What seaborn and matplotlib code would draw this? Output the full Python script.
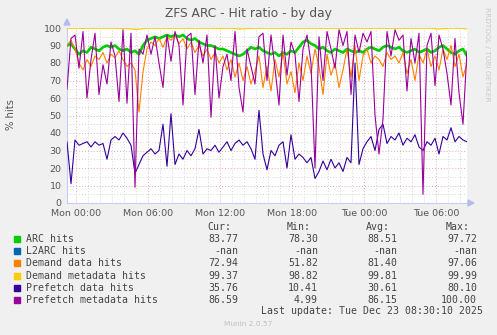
import numpy as np
import seaborn as sns
import matplotlib.pyplot as plt
from matplotlib.ticker import FixedLocator, MultipleLocator

# samples every 20 minutes, starting Sun 23:15 (hours relative to Mon 00:00)
t_start = -0.75
t_step = 1 / 3

arc_hits = [90, 91, 88, 85, 87, 86, 89, 88, 87, 89, 90, 89, 90, 88, 87, 88, 86, 87, 85, 90,
            93, 94, 95, 94, 95, 96, 95, 96, 95, 96, 94, 93, 94, 92, 91, 90, 90, 89, 88, 88,
            87, 86, 85, 84, 85, 87, 89, 88, 89, 87, 86, 85, 86, 84, 86, 85, 87, 86, 89, 92,
            93, 91, 90, 88, 89, 87, 86, 88, 87, 86, 88, 87, 86, 87, 86, 88, 89, 88, 87, 89,
            90, 89, 88, 89, 87, 86, 87, 88, 86, 87, 88, 86, 87, 89, 90, 88, 86, 85, 87, 88, 84]
demand_data = [90, 93, 88, 80, 76, 82, 78, 84, 82, 86, 80, 85, 83, 87, 82, 78, 80, 76, 52, 75,
               88, 92, 90, 94, 89, 95, 93, 96, 91, 94, 88, 92, 86, 90, 84, 88, 82, 86, 80, 84,
               76, 82, 72, 80, 70, 78, 68, 75, 84, 66, 78, 64, 82, 72, 86, 68, 75, 63, 80, 70,
               84, 74, 88, 78, 62, 85, 73, 80, 66, 76, 88, 72, 90, 70, 84, 88, 80, 84, 82, 78,
               86, 82, 84, 80, 86, 74, 82, 70, 85, 80, 88, 78, 84, 76, 88, 82, 90, 78, 85, 72, 80]
demand_meta = [99.8, 99.9, 99.8, 99.9, 99.7, 99.9, 99.8, 99.9, 99.9, 99.8, 99.9, 99.8, 99.9, 99.7, 99.8, 99.6, 99.4, 99.2, 99.3, 99.6,
               99.8, 99.9, 99.9, 99.8, 99.9, 99.9, 99.8, 99.9, 99.9, 99.8, 99.9, 99.8, 99.9, 99.9, 99.8, 99.9, 99.8, 99.9, 99.7, 99.8,
               99.9, 99.8, 99.6, 99.4, 99.5, 99.7, 99.8, 99.9, 99.8, 99.9, 99.9, 99.8, 99.9, 99.9, 99.8, 99.9, 99.9, 99.8, 99.9, 99.9,
               99.8, 99.9, 99.9, 99.8, 99.9, 99.9, 99.8, 99.9, 99.9, 99.8, 99.9, 99.9, 99.8, 99.9, 99.9, 99.8, 99.9, 99.9, 99.8, 99.9,
               99.9, 99.8, 99.9, 99.9, 99.8, 99.9, 99.9, 99.8, 99.9, 99.9, 99.8, 99.9, 99.5, 99.4, 99.6, 99.8, 99.9, 99.9, 99.8, 99.7, 99.4]
prefetch_data = [35, 11, 36, 33, 34, 35, 32, 35, 33, 34, 25, 36, 38, 36, 40, 37, 33, 17, 22, 27,
                 29, 31, 28, 30, 45, 21, 51, 22, 28, 25, 30, 27, 31, 42, 28, 31, 30, 33, 29, 32,
                 35, 30, 34, 36, 33, 35, 31, 25, 53, 28, 19, 30, 27, 33, 35, 20, 39, 25, 28, 26,
                 23, 26, 14, 18, 24, 19, 25, 20, 23, 18, 26, 23, 80, 22, 31, 35, 38, 30, 42, 45,
                 34, 38, 36, 40, 33, 37, 35, 39, 32, 30, 35, 33, 37, 28, 38, 36, 43, 35, 38, 36, 35]
prefetch_meta = [65, 94, 96, 77, 98, 60, 82, 97, 62, 79, 68, 92, 84, 58, 99, 57, 97, 9, 88, 85,
                 96, 85, 95, 80, 66, 96, 81, 98, 90, 56, 95, 97, 62, 93, 80, 96, 49, 90, 60, 78,
                 85, 70, 98, 66, 52, 88, 78, 68, 95, 97, 70, 96, 77, 56, 96, 73, 92, 85, 58, 88,
                 96, 80, 20, 95, 70, 98, 88, 77, 99, 90, 98, 62, 96, 86, 97, 92, 98, 50, 28, 48,
                 98, 84, 99, 93, 96, 64, 94, 80, 97, 5, 90, 97, 67, 96, 88, 74, 56, 94, 63, 45, 87]

tick_hours = [0, 6, 12, 18, 24, 30]
tick_labels = ["Mon 00:00", "Mon 06:00", "Mon 12:00", "Mon 18:00", "Tue 00:00", "Tue 06:00"]

legend_names = ["ARC hits", "L2ARC hits", "Demand data hits", "Demand metadata hits",
                "Prefetch data hits", "Prefetch metadata hits"]
legend_colors = ["#00CC00", "#0066B3", "#FF8000", "#FFCC00", "#330099", "#990099"]
cur_vals = ["83.77", "-nan", "72.94", "99.37", "35.76", "86.59"]
min_vals = ["78.30", "-nan", "51.82", "98.82", "10.41", "4.99"]
avg_vals = ["88.51", "-nan", "81.40", "99.81", "30.61", "86.15"]
max_vals = ["97.72", "-nan", "97.06", "99.99", "80.10", "100.00"]

sns.set_style("white")
plt.rcParams['font.family'] = ['DejaVu Sans']

W, H = 497, 335
fig = plt.figure(figsize=(W / 100, H / 100), dpi=100, facecolor="#f0f0f0")
ax = fig.add_axes([67 / W, (H - 203) / H, 400 / W, 175 / H])
ax.set_facecolor("white")

hours = t_start + t_step * np.arange(len(arc_hits))
series = [(arc_hits, legend_colors[0], 1.9),
          (demand_data, legend_colors[2], 0.8),
          (demand_meta, legend_colors[3], 0.8),
          (prefetch_data, legend_colors[4], 0.8),
          (prefetch_meta, legend_colors[5], 0.8)]
for vals, col, lw in series:
    sns.lineplot(x=hours, y=vals, ax=ax, color=col, linewidth=lw, zorder=3)

ax.set_xlim(hours[0], hours[-1])
ax.set_ylim(0, 100)
ax.xaxis.set_major_locator(FixedLocator(tick_hours))
ax.xaxis.set_minor_locator(MultipleLocator(1))
ax.yaxis.set_major_locator(MultipleLocator(10))
ax.yaxis.set_minor_locator(MultipleLocator(5))
ax.set_xticklabels(tick_labels)
ax.grid(which="major", color="#f0a8a8", linestyle=(0, (1, 2)), linewidth=0.7)
ax.grid(which="minor", color="#d4d4d4", linestyle=(0, (1, 2)), linewidth=0.7)
ax.set_axisbelow(True)
ax.tick_params(axis="both", which="major", labelsize=6.8, labelcolor="#555555",
               length=2, color="#c8c8c8", pad=2)
ax.tick_params(axis="both", which="minor", length=0)
for s in ["top", "right"]:
    ax.spines[s].set_visible(False)
for s in ["left", "bottom"]:
    ax.spines[s].set_color("#c8ccf4")
    ax.spines[s].set_linewidth(0.8)
ax.set_xlabel("")
ax.set_ylabel("")
fig.text(11 / W, 1 - 115 / H, "% hits", rotation=90, ha="center", va="center",
         fontsize=7.2, color="#555555")

# axis arrows
fig.patches.append(plt.Polygon([[64 / W, (H - 25) / H], [70 / W, (H - 25) / H], [67 / W, (H - 19) / H]],
                               closed=True, transform=fig.transFigure, color="#b4bcf0"))
fig.patches.append(plt.Polygon([[468 / W, (H - 200) / H], [468 / W, (H - 206) / H], [474 / W, (H - 203) / H]],
                               closed=True, transform=fig.transFigure, color="#b4bcf0"))

fig.text(248 / W, 1 - 13 / H, "ZFS ARC - Hit ratio - by day", ha="center", va="center",
         fontsize=8.8, color="#555555")
fig.text(487 / W, 1 - 7 / H, "RRDTOOL / TOBI OETIKER", rotation=-90, ha="center", va="top",
         fontsize=5.3, color="#c8c8c8")

# legend table
mono = "DejaVu Sans Mono"
fs = 7.1
col_x = [238, 318, 397, 477]
headers = ["Cur:", "Min:", "Avg:", "Max:"]
for cx, hd in zip(col_x, headers):
    fig.text((cx - 7) / W, 1 - 227 / H, hd, ha="right", va="center", family=mono, fontsize=fs, color="#444444")
for k, name in enumerate(legend_names):
    yy = 239 + 12.2 * k
    fig.patches.append(plt.Rectangle((14 / W, 1 - (yy + 3) / H), 6 / W, 6 / H,
                                     transform=fig.transFigure, color=legend_colors[k]))
    fig.text(26 / W, 1 - yy / H, name, ha="left", va="center", family=mono, fontsize=fs, color="#444444")
    for cx, vals in zip(col_x, [cur_vals, min_vals, avg_vals, max_vals]):
        fig.text(cx / W, 1 - yy / H, vals[k], ha="right", va="center", family=mono, fontsize=fs, color="#444444")
fig.text(483 / W, 1 - 311 / H, "Last update: Tue Dec 23 08:30:10 2025", ha="right", va="center",
         family=mono, fontsize=fs, color="#444444")
fig.text(248 / W, 1 - 324 / H, "Munin 2.0.57", ha="center", va="center", fontsize=5.3, color="#c0c0c0")

fig.savefig("out.png", dpi=100, facecolor=fig.get_facecolor())
